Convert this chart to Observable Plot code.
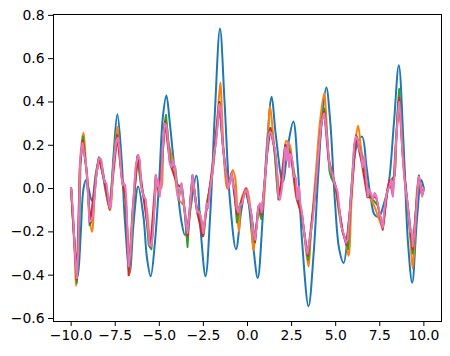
<!DOCTYPE html>
<html><head><meta charset="utf-8">
<script src="https://cdn.jsdelivr.net/npm/d3@7"></script>
<script src="https://cdn.jsdelivr.net/npm/@observablehq/plot@0.6"></script>
<style>body{margin:0;background:#fff}</style>
</head><body><div id="chart"></div>
<script>
const xTicks = [-10, -7.5, -5, -2.5, 0, 2.5, 5, 7.5, 10];
const yTicks = [-0.6, -0.4, -0.2, 0, 0.2, 0.4, 0.6, 0.8];

const blueX = [-10,-9.85,-9.62,-9.45,-9.3,-9.15,-8.82,-8.6,-8.4,-8.2,-7.82,-7.6,-7.38,-7.15,-6.95,-6.68,-6.45,-6.2,-5.9,-5.7,-5.49,-5.25,-5.0,-4.8,-4.6,-4.4,-4.15,-3.95,-3.75,-3.55,-3.25,-2.9,-2.65,-2.38,-2.1,-1.85,-1.56,-1.3,-1.0,-0.65,-0.35,-0.08,0.3,0.58,0.85,1.1,1.37,1.6,2.0,2.3,2.6,2.85,3.1,3.46,3.75,4.0,4.25,4.47,4.7,4.95,5.2,5.45,5.7,5.95,6.2,6.5,6.75,7.0,7.2,7.45,7.7,8.0,8.3,8.58,8.85,9.1,9.34,9.6,9.85,10];
const blueY = [0,-0.2,-0.405,-0.2,0.0,0.04,-0.057,0.07,0.14,0.06,-0.09,0.15,0.343,0.15,-0.15,-0.39,-0.15,0.01,-0.13,-0.32,-0.405,-0.25,0.05,0.33,0.43,0.3,0.1,-0.02,-0.15,-0.215,-0.1,0.06,-0.2,-0.405,-0.1,0.35,0.739,0.4,-0.05,-0.28,-0.1,0.0,-0.25,-0.413,-0.15,0.2,0.424,0.25,0.03,0.2,0.31,0.1,-0.25,-0.544,-0.3,0.05,0.35,0.467,0.3,-0.05,-0.28,-0.344,-0.2,0.05,0.2,0.24,0.1,-0.05,-0.12,-0.13,-0.08,0.02,0.3,0.57,0.2,-0.25,-0.435,-0.15,0.04,0.0];

const orangeX = [-10,-9.8,-9.72,-9.6,-9.5,-9.3,-9.15,-8.82,-8.6,-8.4,-8.1,-7.8,-7.6,-7.38,-7.2,-7.0,-6.8,-6.7,-6.5,-6.3,-6.2,-6.0,-5.7,-5.5,-5.3,-5.1,-4.9,-4.75,-4.62,-4.45,-4.2,-3.9,-3.6,-3.45,-3.3,-3.1,-2.85,-2.6,-2.5,-2.3,-2.0,-1.8,-1.62,-1.53,-1.45,-1.3,-1.15,-0.84,-0.7,-0.55,-0.48,-0.35,-0.05,0.2,0.33,0.55,0.75,0.85,1.05,1.2,1.28,1.45,1.6,1.75,1.9,2.1,2.2,2.4,2.55,2.8,3.0,3.2,3.46,3.6,3.9,4.1,4.35,4.45,4.6,4.8,5.0,5.2,5.4,5.55,5.73,5.9,6.1,6.27,6.45,6.6,6.8,7.0,7.16,7.5,7.67,7.85,8.1,8.3,8.45,8.6,8.7,8.9,9.1,9.25,9.37,9.5,9.65,9.75,9.9,10];
const orangeY = [0,-0.3,-0.45,-0.3,0.12,0.258,0.1,-0.2,0.05,0.14,0.03,-0.1,0.1,0.286,0.1,0.0,-0.2,-0.4,-0.1,0.12,0.15,0.0,-0.1,-0.275,-0.1,0.04,0.0,0.25,0.31,0.2,0.12,-0.05,-0.08,-0.22,-0.15,0.04,-0.11,-0.15,-0.22,-0.07,0.06,0.23,0.42,0.49,0.35,0.1,0.0,0.086,0.05,-0.15,-0.2,-0.05,0.0,-0.12,-0.286,-0.15,-0.08,-0.1,0.1,0.3,0.38,0.25,0.12,-0.04,0.0,0.17,0.22,0.2,0.1,-0.05,-0.08,-0.2,-0.36,-0.2,0.1,0.3,0.44,0.35,0.15,0.07,0.0,-0.12,-0.2,-0.23,-0.31,-0.05,0.2,0.29,0.18,0.12,0.0,-0.05,-0.075,-0.15,-0.18,-0.05,0.03,0.05,0.25,0.42,0.3,0.05,-0.1,-0.25,-0.37,-0.2,0.02,0.04,-0.03,0];

const greenX = [-10,-9.85,-9.68,-9.55,-9.47,-9.33,-9.2,-9.1,-8.95,-8.8,-8.58,-8.43,-8.3,-8.1,-7.82,-7.6,-7.4,-7.25,-7.1,-6.9,-6.72,-6.6,-6.45,-6.25,-6.05,-5.8,-5.6,-5.45,-5.3,-5.2,-5.0,-4.85,-4.7,-4.62,-4.5,-4.3,-4.1,-3.9,-3.75,-3.55,-3.4,-3.25,-3.12,-2.9,-2.7,-2.51,-2.3,-2.0,-1.75,-1.58,-1.45,-1.25,-1.05,-0.9,-0.75,-0.6,-0.45,-0.1,0.2,0.42,0.6,0.78,1.0,1.2,1.3,1.5,1.75,2.0,2.15,2.3,2.5,2.7,2.85,3.1,3.44,3.6,3.9,4.2,4.35,4.5,4.65,4.75,5.0,5.2,5.4,5.7,5.85,6.05,6.2,6.4,6.6,6.8,7.1,7.4,7.67,7.9,8.15,8.35,8.5,8.6,8.7,8.9,9.15,9.37,9.5,9.7,9.9,10];
const greenY = [0,-0.2,-0.436,-0.25,0.12,0.24,0.14,0.06,-0.17,-0.14,0.05,0.145,0.13,0.03,-0.09,0.12,0.25,0.18,0.03,-0.05,-0.38,-0.28,-0.07,0.15,0.02,-0.06,-0.26,-0.28,-0.12,0.05,-0.02,0.1,0.3,0.34,0.22,0.1,0.1,-0.05,0.02,-0.12,-0.27,-0.06,0.06,-0.08,-0.11,-0.22,-0.07,0.07,0.25,0.40,0.25,0.08,0.01,0.07,0.0,-0.157,-0.08,-0.01,-0.12,-0.25,-0.09,-0.14,0.05,0.26,0.28,0.2,-0.05,0.05,0.2,0.2,0.14,0.05,-0.05,-0.14,-0.33,-0.2,0.05,0.31,0.37,0.26,0.08,0.05,0.01,-0.1,-0.2,-0.28,-0.05,0.2,0.24,0.17,0.13,-0.02,-0.05,-0.08,-0.18,-0.02,0.04,0.06,0.35,0.46,0.33,0.06,-0.15,-0.3,-0.15,0.05,-0.03,0];

const redX = [-10,-9.68,-9.5,-9.35,-9.1,-8.93,-8.6,-8.43,-8.1,-7.82,-7.38,-7.1,-6.9,-6.74,-6.5,-6.2,-5.9,-5.5,-5.2,-5.0,-4.68,-4.4,-4.0,-3.7,-3.4,-3.12,-2.85,-2.55,-2.2,-1.9,-1.6,-1.4,-1.1,-0.9,-0.6,-0.1,0.2,0.43,0.62,0.8,1.1,1.3,1.6,1.8,2.13,2.45,2.8,3.1,3.4,3.8,4.2,4.35,4.6,5.0,5.4,5.6,5.9,6.15,6.5,6.8,7.3,7.67,7.95,8.05,8.24,8.4,8.6,8.8,9.05,9.37,9.6,9.72,9.9,10];
const redY = [0,-0.42,0.1,0.22,0.07,-0.16,0.05,0.14,0.03,-0.095,0.245,0.03,-0.05,-0.40,-0.08,0.155,-0.04,-0.27,0.06,-0.03,0.31,0.12,0.02,0.0,-0.22,0.06,-0.11,-0.22,-0.03,0.16,0.40,0.2,0.0,0.07,-0.12,0.0,-0.11,-0.245,-0.08,-0.12,0.15,0.28,0.15,-0.05,0.2,0.16,-0.05,-0.13,-0.31,-0.05,0.31,0.355,0.13,0.01,-0.2,-0.26,-0.03,0.245,0.11,-0.04,-0.04,-0.19,0.0,0.04,-0.03,0.2,0.42,0.15,-0.05,-0.28,-0.05,0.06,-0.03,0];

const pinkX = [-10,-9.9,-9.8,-9.68,-9.6,-9.49,-9.4,-9.34,-9.25,-9.18,-9.11,-8.96,-8.87,-8.77,-8.58,-8.43,-8.3,-8.2,-8.1,-8.0,-7.82,-7.76,-7.59,-7.44,-7.35,-7.25,-7.15,-7.08,-7.02,-6.93,-6.87,-6.74,-6.64,-6.49,-6.34,-6.2,-6.1,-6.02,-5.89,-5.77,-5.7,-5.55,-5.45,-5.36,-5.26,-5.2,-5.13,-5.07,-4.98,-4.89,-4.79,-4.69,-4.6,-4.5,-4.41,-4.31,-4.22,-4.12,-4.03,-3.93,-3.84,-3.74,-3.65,-3.55,-3.46,-3.4,-3.33,-3.23,-3.12,-3.04,-2.95,-2.85,-2.74,-2.64,-2.51,-2.42,-2.32,-2.23,-2.13,-2.0,-1.9,-1.79,-1.7,-1.6,-1.5,-1.41,-1.28,-1.18,-1.09,-1.0,-0.9,-0.81,-0.71,-0.62,-0.52,-0.43,-0.31,-0.2,-0.1,0.0,0.1,0.2,0.33,0.43,0.52,0.62,0.71,0.8,0.9,1.0,1.09,1.18,1.28,1.37,1.47,1.56,1.66,1.75,1.85,1.94,2.04,2.13,2.23,2.28,2.36,2.45,2.55,2.64,2.74,2.83,2.91,3.02,3.12,3.21,3.31,3.4,3.5,3.59,3.7,3.8,3.9,3.99,4.09,4.18,4.27,4.35,4.45,4.54,4.64,4.73,4.82,4.92,5.01,5.11,5.2,5.3,5.39,5.49,5.58,5.68,5.77,5.87,5.96,6.06,6.15,6.25,6.34,6.44,6.53,6.63,6.72,6.82,6.91,7.0,7.1,7.2,7.29,7.38,7.48,7.57,7.67,7.76,7.86,7.95,8.05,8.14,8.24,8.33,8.43,8.55,8.61,8.68,8.77,8.87,8.96,9.05,9.15,9.24,9.3,9.37,9.47,9.56,9.66,9.72,9.81,9.9,10];
const pinkY = [0,-0.1,-0.28,-0.413,-0.3,0.13,0.19,0.21,0.15,0.13,0.07,-0.152,-0.15,-0.13,0.055,0.14,0.135,0.07,0.03,0.025,-0.09,-0.085,0.117,0.22,0.235,0.18,0.055,0.015,0.025,0.015,-0.05,-0.36,-0.3,-0.083,0.10,0.155,0.13,0.01,-0.037,-0.05,-0.13,-0.26,-0.267,-0.205,-0.05,0.063,0.01,0.04,-0.037,0.04,0.21,0.3,0.293,0.21,0.117,0.1,0.13,0.1,0.025,-0.05,-0.02,0.025,-0.05,-0.11,-0.175,-0.205,-0.145,-0.05,0.06,0.01,-0.05,-0.11,-0.106,-0.13,-0.205,-0.145,-0.068,-0.09,-0.006,0.07,0.16,0.21,0.29,0.39,0.36,0.21,0.10,0.055,0.0,0.03,0.07,0.01,-0.006,-0.09,-0.11,-0.075,-0.07,-0.03,-0.006,-0.02,-0.07,-0.11,-0.2,-0.236,-0.175,-0.083,-0.068,-0.11,-0.037,0.055,0.147,0.24,0.263,0.255,0.21,0.18,0.1,-0.037,-0.05,-0.006,0.07,0.19,0.13,0.21,0.1,0.16,0.13,0.055,0.05,-0.05,0.01,-0.083,-0.13,-0.2,-0.267,-0.3,-0.25,-0.2,-0.145,-0.05,0.04,0.13,0.22,0.3,0.33,0.347,0.285,0.21,0.117,0.078,0.07,0.025,0.01,-0.014,-0.083,-0.175,-0.19,-0.22,-0.25,-0.236,-0.145,-0.037,0.07,0.21,0.24,0.224,0.18,0.163,0.1,0.147,0.055,-0.037,-0.006,-0.02,-0.05,-0.02,-0.03,-0.068,-0.11,-0.145,-0.18,-0.1,-0.037,-0.006,0.01,0.04,-0.037,0.055,0.224,0.36,0.4,0.33,0.19,0.07,0.0,-0.05,-0.13,-0.2,-0.19,-0.267,-0.2,-0.11,0.01,0.055,0.01,-0.037,0];

const toRows = (xs, ys) => xs.map((x, i) => ({x, y: ys[i]}));
const fmt = d => (d < 0 ? "\u2212" : "") + Math.abs(d).toFixed(1);

const lineOpts = (color, curve) => ({x: "x", y: "y", stroke: color, strokeWidth: 2, curve, strokeLinejoin: "round", strokeLinecap: "round"});

const chart = Plot.plot({
  width: 450, height: 356,
  marginLeft: 53, marginRight: 9, marginTop: 14, marginBottom: 35,
  x: {domain: [-11, 11]},
  y: {domain: [-0.614, 0.804]},
  style: {fontFamily: "DejaVu Sans", fontSize: "13.9px", color: "#000", background: "#fff"},
  marks: [
    Plot.line(toRows(blueX, blueY), lineOpts("#1f77b4", "catmull-rom")),
    Plot.line(toRows(orangeX, orangeY), lineOpts("#ff7f0e", "catmull-rom")),
    Plot.line(toRows(greenX, greenY), lineOpts("#2ca02c", "linear")),
    Plot.line(toRows(redX, redY), lineOpts("#d62728", "linear")),
    Plot.line(toRows(pinkX, pinkY), lineOpts("#e377c2", "linear")),
    Plot.frame({stroke: "#000", strokeWidth: 1}),
    Plot.axisX({ticks: xTicks, tickSize: 5, tickPadding: 4, tickFormat: fmt, label: null, fontSize: 13.9}),
    Plot.axisY({ticks: yTicks, tickSize: 5, tickPadding: 4, tickFormat: fmt, label: null, fontSize: 13.9})
  ]
});
document.getElementById("chart").appendChild(chart);
</script>
</body></html>
